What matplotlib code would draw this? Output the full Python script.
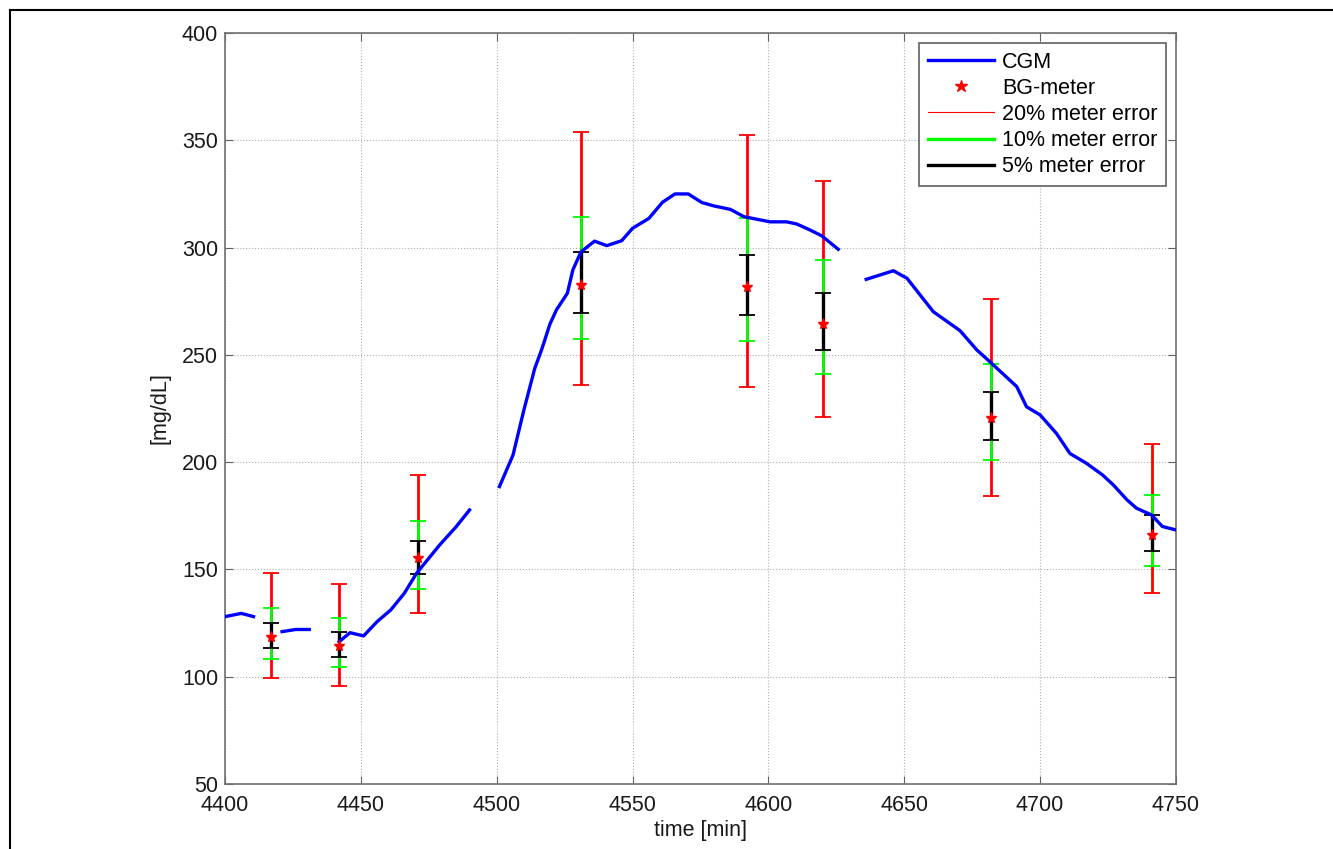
import numpy as np
import matplotlib.pyplot as plt
from matplotlib.lines import Line2D

plt.rcParams['font.family'] = ['Liberation Sans', 'DejaVu Sans']

# CGM trace (NaN marks the gaps in the sensor data)
cgm_t = [4400, 4406, 4410.5, np.nan,
         4421, 4426, 4431, np.nan,
         4442, 4446, 4451, 4456, 4461, 4466, 4470.5, 4479, 4485, 4490, np.nan,
         4501, 4506, 4510, 4514, 4516.5, 4519.6, 4522, 4526, 4528, 4531, 4536,
         4540.5, 4546, 4550, 4556, 4561, 4565.6, 4570.5, 4575.5, 4580, 4586,
         4591, 4600.6, 4606.7, 4610.4, 4615.3, 4619.6, 4625.7, np.nan,
         4636, 4646, 4651, 4660.7, 4670.5, 4676.7, 4681.5, 4691.4, 4695, 4700,
         4706, 4711, 4717, 4723, 4727, 4732, 4735.5, 4741, 4745, 4750]
cgm_g = [128, 129.5, 128, np.nan,
         121, 122, 122, np.nan,
         116.3, 120.5, 119, 125.7, 131.1, 138.9, 148.2, 161.4, 169.8, 177.7, np.nan,
         188.6, 203.3, 224.3, 243.7, 252.3, 264.4, 271, 278.7, 289.5, 298, 303,
         300.9, 303.2, 309, 313.6, 321.1, 325, 325, 321, 319.4, 317.8,
         314.4, 312, 312, 311, 308.2, 305.5, 299.2, np.nan,
         285.2, 289.2, 285.7, 270.1, 261.3, 252.3, 246.8, 235.2, 225.8, 222,
         213.4, 204, 199.5, 194, 189.3, 182.4, 178.5, 175.4, 170, 168.4]

# BG-meter readings and error-bar bounds
bg_t = [4417, 4442, 4471, 4531, 4592, 4620, 4682, 4741]
bg_g = [118.4, 114.3, 155.3, 282.6, 281.8, 264.5, 220.4, 166.0]
err20_lo = [99.2, 95.5, 129.7, 236.0, 235.0, 220.9, 184.2, 138.9]
err20_hi = [148.3, 143.2, 194.0, 353.9, 352.5, 331.0, 276.2, 208.3]
err10_lo = [108.1, 104.3, 140.9, 257.2, 256.3, 240.9, 201.0, 151.6]
err10_hi = [131.9, 127.3, 172.6, 314.4, 313.6, 294.3, 245.6, 184.7]
err5_lo = [113.3, 109.3, 147.9, 269.5, 268.6, 252.3, 210.5, 158.6]
err5_hi = [125.2, 120.8, 163.2, 297.9, 296.7, 278.8, 232.5, 175.2]

fig = plt.figure(figsize=(13.33, 8.49), dpi=100)
ax = fig.add_axes([0.1688, 0.0766, 0.7134, 0.8845])

def draw_err(lo, hi, color, lw):
    mid = [(a + b) / 2 for a, b in zip(lo, hi)]
    yerr = [[m - a for m, a in zip(mid, lo)], [b - m for m, b in zip(mid, hi)]]
    ax.errorbar(bg_t, mid, yerr=yerr, fmt='none', ecolor=color, elinewidth=lw,
                capsize=5.5, capthick=1.3)

ax.plot(cgm_t, cgm_g, color='#0000ff', lw=2.4, zorder=3)
draw_err(err20_lo, err20_hi, '#ff0000', 2.0)
draw_err(err10_lo, err10_hi, '#00ff00', 2.0)
draw_err(err5_lo, err5_hi, '#000000', 2.4)
ax.plot(bg_t, bg_g, ls='none', marker='*', color='#ff0000', ms=8, zorder=5)

ax.set_xlim(4400, 4750)
ax.set_ylim(50, 400)
ax.set_xticks(range(4400, 4751, 50))
ax.set_yticks(range(50, 401, 50))
ax.grid(True, ls=':', color='#b0b0b0', lw=0.8)
ax.tick_params(direction='in', top=True, right=True, labelsize=15.5, length=6,
               color='#606060', labelcolor='#1a1a1a')
ax.tick_params(axis='x', pad=8)
ax.tick_params(axis='y', pad=5)
for s in ax.spines.values():
    s.set_color('#707070')
    s.set_linewidth(1.2)
ax.set_xlabel('time [min]', fontsize=15.5, color='#1a1a1a', labelpad=3)
ax.set_ylabel('[mg/dL]', fontsize=15.5, color='#1a1a1a', labelpad=8)

handles = [
    Line2D([], [], color='#0000ff', lw=2.4),
    Line2D([], [], ls='none', marker='*', color='#ff0000', ms=9),
    Line2D([], [], color='#ff0000', lw=0.8),
    Line2D([], [], color='#00ff00', lw=2.4),
    Line2D([], [], color='#000000', lw=2.4),
]
labels = ['CGM', 'BG-meter', '20% meter error', '10% meter error', '5% meter error']
leg = ax.legend(handles, labels, loc='upper right', bbox_to_anchor=(0.9895, 0.9867),
                borderaxespad=0, fontsize=15.5, fancybox=False, framealpha=1,
                edgecolor='#606060', handlelength=3.1, labelspacing=0.24,
                handletextpad=0.35, borderpad=0.4)
leg.get_frame().set_linewidth(1.2)

# outer frame
fig.add_artist(Line2D([9.5 / 1333, 1], [1 - 9.5 / 849, 1 - 9.5 / 849],
                      transform=fig.transFigure, color='black', lw=1.5))
fig.add_artist(Line2D([9.5 / 1333, 9.5 / 1333], [0, 1 - 9.5 / 849],
                      transform=fig.transFigure, color='black', lw=1.5))

fig.savefig('out.png', dpi=100)
